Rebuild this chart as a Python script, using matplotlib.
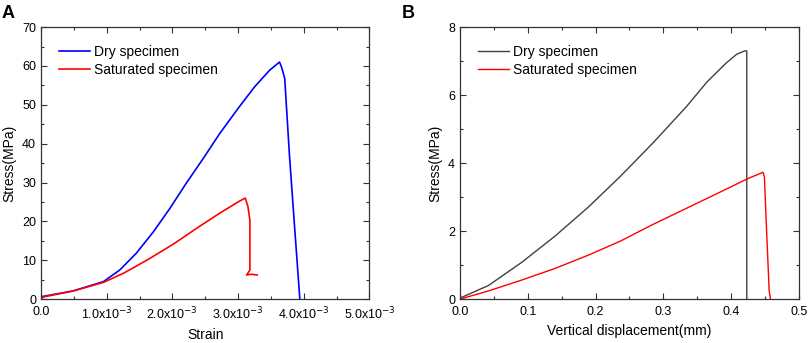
import numpy as np
import matplotlib.pyplot as plt
from matplotlib.ticker import MultipleLocator, FuncFormatter

plt.rcParams['font.family'] = ['Liberation Sans', 'DejaVu Sans']

# Panel A: stress-strain
strain_dry = [0, 0.49e-3, 0.95e-3, 1.2e-3, 1.45e-3, 1.71e-3, 1.96e-3, 2.21e-3, 2.47e-3,
              2.72e-3, 3.01e-3, 3.25e-3, 3.48e-3, 3.63e-3, 3.66e-3, 3.71e-3, 3.78e-3,
              3.86e-3, 3.94e-3]
stress_dry = [0.6, 2.1, 4.5, 7.5, 11.8, 17.3, 23.3, 29.8, 36.2,
              42.6, 49.3, 54.6, 58.9, 61.0, 59.8, 56.8, 37.5,
              18.6, 0]
strain_sat = [0, 0.05e-3, 0.49e-3, 0.95e-3, 1.25e-3, 1.61e-3, 2.01e-3, 2.42e-3, 2.72e-3,
              3.01e-3, 3.11e-3, 3.15e-3, 3.18e-3, 3.18e-3, 3.13e-3, 3.2e-3, 3.29e-3]
stress_sat = [0.2, 0.6, 2.1, 4.3, 6.6, 10.0, 14.1, 18.8, 22.1,
              25.1, 26.0, 23.8, 20.3, 7.5, 6.2, 6.4, 6.2]

# Panel B: stress-vertical displacement
disp_dry = [0, 0.042, 0.091, 0.14, 0.189, 0.236, 0.285, 0.334, 0.364,
            0.393, 0.408, 0.42, 0.423, 0.423]
stressB_dry = [0.03, 0.4, 1.08, 1.85, 2.7, 3.6, 4.6, 5.66, 6.38,
               6.95, 7.2, 7.3, 7.3, 0]
disp_sat = [0, 0.042, 0.091, 0.14, 0.189, 0.236, 0.285, 0.334, 0.383,
            0.423, 0.447, 0.449, 0.452, 0.456, 0.458]
stressB_sat = [0, 0.24, 0.56, 0.9, 1.29, 1.7, 2.2, 2.67, 3.14,
               3.53, 3.73, 3.6, 2.13, 0.26, 0]

fig = plt.figure(figsize=(8.09, 3.43), dpi=100)
axA = fig.add_axes([0.0507, 0.128, 0.406, 0.793])
axB = fig.add_axes([0.5686, 0.128, 0.419, 0.793])

axA.plot(strain_dry, stress_dry, color='#0000ff', lw=1.2, label='Dry specimen')
axA.plot(strain_sat, stress_sat, color='#ff0000', lw=1.2, label='Saturated specimen')
axA.set_xlim(0, 5e-3)
axA.set_ylim(0, 70)
axA.xaxis.set_major_locator(MultipleLocator(1e-3))
axA.xaxis.set_minor_locator(MultipleLocator(0.5e-3))
axA.yaxis.set_major_locator(MultipleLocator(10))
axA.yaxis.set_minor_locator(MultipleLocator(5))


def sci_fmt(v, pos):
    if abs(v) < 1e-9:
        return '0.0'
    return '%.1fx10$^{-3}$' % (v * 1e3)


axA.xaxis.set_major_formatter(FuncFormatter(sci_fmt))
axA.set_xlabel('Strain', fontsize=10)
axA.set_ylabel('Stress(MPa)', fontsize=10)

axB.plot(disp_dry, stressB_dry, color='#404040', lw=1.0, label='Dry specimen')
axB.plot(disp_sat, stressB_sat, color='#ff0000', lw=1.0, label='Saturated specimen')
axB.set_xlim(0, 0.5)
axB.set_ylim(0, 8)
axB.xaxis.set_major_locator(MultipleLocator(0.1))
axB.xaxis.set_minor_locator(MultipleLocator(0.05))
axB.yaxis.set_major_locator(MultipleLocator(2))
axB.yaxis.set_minor_locator(MultipleLocator(1))
axB.xaxis.set_major_formatter(FuncFormatter(lambda v, p: '%.1f' % v))
axB.set_xlabel('Vertical displacement(mm)', fontsize=10)
axB.set_ylabel('Stress(MPa)', fontsize=10)

for ax in (axA, axB):
    ax.tick_params(which='both', direction='in', top=True, right=True,
                   labelsize=9, color='#333333', width=0.8)
    ax.tick_params(which='major', length=4)
    ax.tick_params(which='minor', length=2)
    ax.tick_params(axis='x', pad=5)
    for s in ax.spines.values():
        s.set_linewidth(0.9)
        s.set_color('#333333')
    ax.legend(loc='upper left', frameon=False, fontsize=10, handlelength=2.2,
              handletextpad=0.35, labelspacing=0.3, borderaxespad=0.9)

fig.text(0.002, 0.985, 'A', fontsize=13, fontweight='bold', va='top', ha='left')
fig.text(0.497, 0.985, 'B', fontsize=13, fontweight='bold', va='top', ha='left')

fig.savefig('out.png', dpi=100)
